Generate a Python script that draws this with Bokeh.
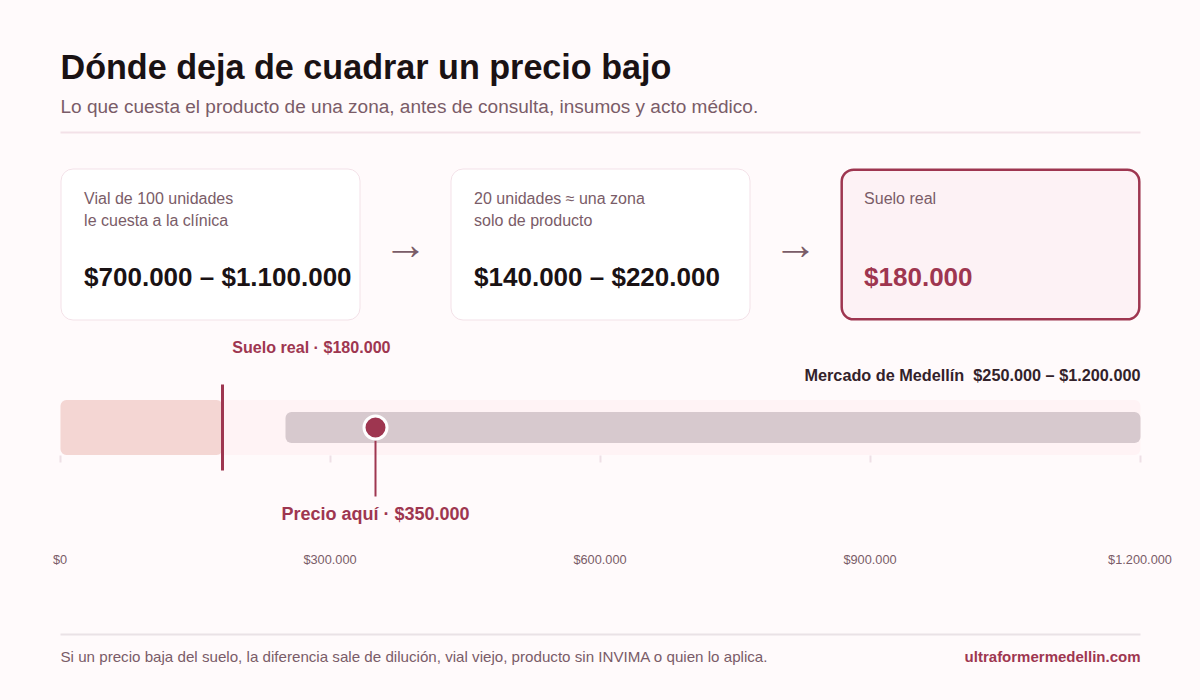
from bokeh.core.properties import value
from bokeh.embed import file_html
from bokeh.models import GlobalInlineStyleSheet, Range1d
from bokeh.plotting import figure
from bokeh.resources import INLINE

# data
title = "Dónde deja de cuadrar un precio bajo"
subtitle = "Lo que cuesta el producto de una zona, antes de consulta, insumos y acto médico."
card_labels = [["Vial de 100 unidades", "le cuesta a la clínica"],
               ["20 unidades ≈ una zona", "solo de producto"],
               ["Suelo real"]]
card_values = ["$700.000 – $1.100.000", "$140.000 – $220.000", "$180.000"]
axis_max = 1200000
floor_price = 180000
here_price = 350000
market_low = 250000
market_high = 1200000
tick_values = [0, 300000, 600000, 900000, 1200000]
tick_labels = ["$0", "$300.000", "$600.000", "$900.000", "$1.200.000"]
floor_label = "Suelo real · $180.000"
here_label = "Precio aquí · $350.000"
market_label = "Mercado de Medellín\u00a0\u00a0$250.000 – $1.200.000"
footer = "Si un precio baja del suelo, la diferencia sale de dilución, vial viejo, producto sin INVIMA o quien lo aplica."
site = "ultraformermedellin.com"

BG = "#fffafb"
INK = "#1a1214"
MUTED = "#7a5c68"
ACCENT = "#9e3650"
RULE = "#f3e1e8"
SANS = value("Liberation Sans")

# main ranges are page pixels, the "money" range lines up the price scale with x=60..1140
p = figure(width=1200, height=700, output_backend="svg", toolbar_location=None,
           x_range=Range1d(0, 1200), y_range=Range1d(700, 0),
           background_fill_color=BG, border_fill_color=BG, min_border=0)
px = axis_max / 1080
p.extra_x_ranges["money"] = Range1d(-60 * px, 1140 * px)
p.xaxis.visible = False
p.yaxis.visible = False
p.grid.visible = False
p.outline_line_color = None
p.stylesheets = [GlobalInlineStyleSheet(css="body{background:%s}" % BG)]


def label(x, y, txt, size, color, bold=False, align="left", **kw):
    p.text([x], [y], text=[txt], text_font=SANS, text_font_size=f"{size}px",
           text_font_style="bold" if bold else "normal", text_color=color,
           text_align=align, text_baseline="alphabetic", **kw)


label(60, 66, title, 34.15, INK, bold=True)
label(60, 106, subtitle, 19.03, MUTED)
p.segment([60], [132], [1140], [132], line_color=RULE, line_width=2)

# cards
card_x = [60, 450, 840]
for i, x in enumerate(card_x):
    last = i == 2
    inset = 1.2 if last else 0.5
    p.quad(left=[x + inset], right=[x + 300 - inset], top=[168 + inset], bottom=[320 - inset],
           border_radius=12, fill_color="#fdf2f5" if last else "#ffffff",
           line_color=ACCENT if last else RULE, line_width=2.5 if last else 1)
    for j, txt in enumerate(card_labels[i]):
        label(x + 23.6, 198.4 + j * 22, txt, 16, MUTED)
    label(x + 23.6, 276, card_values[i], 26, ACCENT if last else INK, bold=True)
for x in [405, 795]:
    label(x, 243, "→", 44, MUTED, align="center")

# price scale
p.quad(left=[0], right=[axis_max], top=[399.5], bottom=[454.5], x_range_name="money",
       fill_color="#fff3f5", line_color=None, border_radius=6)
p.quad(left=[0], right=[floor_price], top=[399.5], bottom=[454.5], x_range_name="money",
       fill_color="#f4d6d3", line_color=None, border_radius=6)
p.quad(left=[market_low], right=[market_high], top=[411.5], bottom=[442.5], x_range_name="money",
       fill_color="#d7c9ce", line_color=None, border_radius=6)
p.segment(tick_values, [455] * 5, tick_values, [462] * 5, x_range_name="money",
          line_color="#eee0e6", line_width=2)
p.text(tick_values, [559] * 5, text=tick_labels, x_range_name="money", text_font=SANS,
       text_font_size="12.75px", text_color=MUTED, text_align="center",
       text_baseline="alphabetic", x_offset=-0.5)

p.segment([floor_price], [384], [floor_price], [470], x_range_name="money",
          line_color=ACCENT, line_width=3)
p.segment([here_price], [440], [here_price], [496], x_range_name="money",
          line_color=ACCENT, line_width=2)
p.scatter([here_price], [427], x_range_name="money", size=23, fill_color=ACCENT,
          line_color="#ffffff", line_width=3)

label(231.7, 346.4, floor_label, 16.1, ACCENT, bold=True)
label(1140, 374, market_label, 16.25, "#33222a", bold=True, align="right")
label(375, 513, here_label, 18, ACCENT, bold=True, align="center")

# footer
p.segment([60], [634], [1140], [634], line_color="#eae2e6", line_width=2)
label(60, 656, footer, 15.15, MUTED)
label(1140, 656, site, 15, ACCENT, bold=True, align="right")

open("out.html", "w").write(file_html(p, INLINE))
